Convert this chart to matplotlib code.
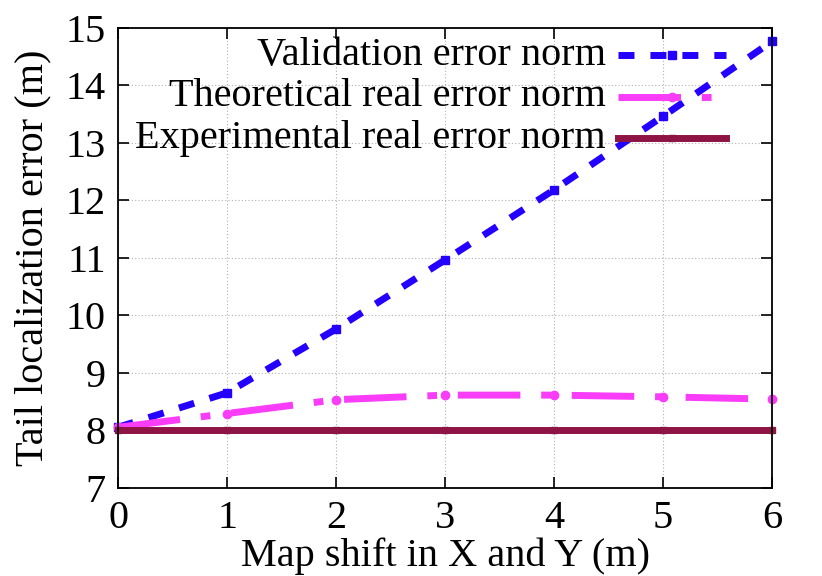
import numpy as np
import matplotlib
matplotlib.use('Agg')
import matplotlib.pyplot as plt
from matplotlib.lines import Line2D

# data
shift = [0, 1, 2, 3, 4, 5, 6]
validation_err = [8.05, 8.65, 9.76, 10.96, 12.18, 13.46, 14.76]
theoretical_err = [8.05, 8.29, 8.53, 8.61, 8.61, 8.58, 8.54]
experimental_err = [8.0, 8.0, 8.0, 8.0, 8.0, 8.0, 8.0]
labels = ['Validation error norm', 'Theoretical real error norm', 'Experimental real error norm']

plt.rcParams['font.family'] = ['Liberation Serif', 'DejaVu Serif']
plt.rcParams['font.size'] = 29

fig = plt.figure(figsize=(8.22, 5.76), dpi=100)
ax = fig.add_axes([0.1436, 0.1533, 0.7956, 0.7987])

blue = '#2400ff'
magenta = '#f83cf8'
maroon = '#8f1446'
lw = 5

styles = [
    dict(color=blue, lw=lw, dashes=(2.3, 2.3), marker='s', ms=6),
    dict(color=magenta, lw=lw, dashes=(9, 3, 1.4, 3), marker='o', ms=6),
    dict(color=maroon, lw=lw, linestyle='-', marker='s', ms=5),
]

series = [validation_err, theoretical_err, experimental_err]
for ys, st in zip(series, styles):
    ax.plot(shift, ys, clip_on=False, solid_capstyle='butt', dash_capstyle='butt', **st)

ax.set_xlim(0, 6)
ax.set_ylim(7, 15)
ax.set_xticks(range(0, 7))
ax.set_yticks(range(7, 16))
ax.grid(True, color='#b0b0b0', linestyle=(0, (1, 2)), linewidth=0.8)
ax.tick_params(direction='in', top=True, right=True, length=8, width=1.2, pad=9)
for s in ax.spines.values():
    s.set_linewidth(1.3)

ax.set_xlabel('Map shift in X and Y (m)', labelpad=0)
ax.set_ylabel('Tail localization error (m)', labelpad=10)

# gnuplot-style key: right aligned text, sample on its right
key_y = [0.94, 0.85, 0.76]
for lab, st, yk in zip(labels, styles, key_y):
    ax.text(0.746, yk, lab, transform=ax.transAxes, ha='right', va='center')
    kst = dict(st)
    kst.pop('marker')
    kst.pop('ms')
    ax.add_line(Line2D([0.765, 0.93], [yk, yk], transform=ax.transAxes, **kst))
    ax.add_line(Line2D([0.8475], [yk], transform=ax.transAxes, color=st['color'],
                       marker=st['marker'], ms=st['ms'], linestyle='none'))

fig.savefig('out.png', dpi=100)
